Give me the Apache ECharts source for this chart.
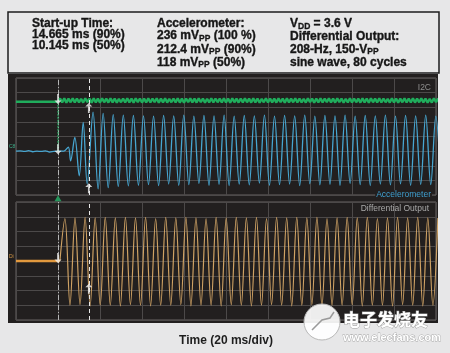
<!DOCTYPE html>
<html><head><meta charset="utf-8">
<script src="https://cdn.jsdelivr.net/npm/echarts@6/dist/echarts.min.js"></script>
<style>html,body{margin:0;padding:0;background:#e7e7e8}#c{width:450px;height:353px}</style>
</head><body><div id="c"></div>
<script>
// ---- time axis (ms), 20 ms/div ----
const timeMin = 0, timeMax = 200, timeDiv = 20;
const cursorTimes = [20, 34.665];          // trigger cursor, 90 % start-up cursor
// ---- I2C (green), arbitrary volts ----
const i2cPre = [[0, 3.58], [20, 3.58]];
const i2cRippleStart = 21, i2cRippleStep = 1.0;
const i2cRipple = [
3.80,3.53,3.82,3.51,3.79,3.54,3.81,3.52,3.80,3.53,
3.78,3.52,3.81,3.54,3.80,3.51,3.82,3.53,3.79,3.52,
3.81,3.54,3.79,3.52,3.82,3.53,3.80,3.51,3.78,3.54,
3.80,3.52,3.82,3.53,3.79,3.51,3.81,3.54,3.80,3.52,
3.79,3.53,3.81,3.52,3.80,3.54,3.82,3.51,3.79,3.53,
3.81,3.52,3.78,3.54,3.80,3.53,3.82,3.52,3.79,3.51,
3.80,3.54,3.81,3.53,3.79,3.52,3.82,3.54,3.80,3.51,
3.78,3.53,3.81,3.52,3.80,3.54,3.79,3.53,3.82,3.52,
3.80,3.51,3.81,3.54,3.79,3.52,3.80,3.53,3.82,3.54,
3.79,3.52,3.81,3.53,3.80,3.51,3.78,3.54,3.82,3.52,
3.80,3.53,3.79,3.52,3.81,3.54,3.80,3.51,3.82,3.53,
3.79,3.54,3.81,3.52,3.80,3.53,3.78,3.52,3.82,3.54,
3.80,3.51,3.79,3.53,3.81,3.52,3.80,3.54,3.82,3.53,
3.79,3.52,3.81,3.54,3.80,3.51,3.78,3.53,3.82,3.52,
3.80,3.54,3.79,3.52,3.81,3.53,3.80,3.51,3.82,3.54,
3.79,3.53,3.81,3.52,3.80,3.54,3.78,3.52,3.82,3.53,
3.80,3.51,3.79,3.54,3.81,3.52,3.80,3.53,3.82,3.52,
3.79,3.54,3.81,3.53,3.80,3.51,3.78,3.52,3.82,3.54,
3.80,3.53];
// ---- Accelerometer (blue), mV ----
const accelStartup = [[0,0],[2,1],[4,-1],[6,1.5],[8,-2],[10,0],[12,-1],[14,1],[16,-3],[18,-1],[20,0],[22.8,0],
  [24.9,13],[26.0,-32],[28.0,45],[30.1,-81],[32.0,94],[33.9,-108],[36.7,128]];
const accelSteadyStart = 39.1, accelSteadyStep = 2.4;
const accelSteady = [
-124,124,-120,120,-116,118,-114,117,-112,116,
-110,115,-113,117,-108,116,-112,118,-110,115,
-106,117,-112,116,-109,118,-113,115,-108,117,
-111,116,-105,118,-112,115,-110,117,-108,116,
-113,118,-107,115,-111,117,-109,116,-112,118,
-106,115,-110,117,-113,116,-108,118,-111,115,
-107,117,-112,116,-109,118,-110,115,-111];
// ---- Differential output (orange) ----
const diffPre = [[0,0],[20.9,0]];
const diffStart = 23.3, diffStep = 2.4;
const diffValues = [
72,-75,73,-74,74,-76,73,-75,74,-75,
73,-76,74,-74,73,-75,74,-76,72,-75,
74,-75,73,-74,74,-76,73,-75,72,-75,
74,-76,73,-74,74,-75,73,-76,74,-75,
72,-74,74,-75,73,-76,74,-75,73,-74,
74,-76,72,-75,73,-75,74,-74,73,-76,
74,-75,72,-75,73,-76,74,-74,73,-75,
74,-76,73,-75,73];
// ---- cursor markers (data space) ----
const i2cMarks = [[20, 3.76, 180], [34.665, 3.15, 0]];
const accelMarks = [[20, 6, 180], [34.665, -122, 0]];
const diffMarks = [[20, 5, 180], [34.665, -47, 0]];
const triggerMark = [[20, -155]];
const triggerLink = [[20, 3.58], [20, 0.1]];

const FONT = '"Liberation Sans", Arial, Helvetica, sans-serif';
const header = [
  {x: 32, y: 24, t: 'Start-up Time:'},
  {x: 32, y: 35, t: '14.665 ms (90%)'},
  {x: 32, y: 46, t: '10.145 ms (50%)'},
  {x: 157, y: 24, t: 'Accelerometer:'},
  {x: 157, y: 36, t: '236 mV{s|PP} (100 %)'},
  {x: 157, y: 49.5, t: '212.4 mV{s|PP} (90%)'},
  {x: 157, y: 62.5, t: '118 mV{s|PP} (50%)'},
  {x: 290, y: 24, t: 'V{s|DD} = 3.6 V'},
  {x: 290, y: 36.5, t: 'Differential Output:'},
  {x: 290, y: 49.5, t: '208-Hz, 150-V{s|PP}'},
  {x: 290, y: 63, t: 'sine wave, 80 cycles'}
];

function seq(start, step, vals) { return vals.map((v, i) => [+(start + i * step).toFixed(3), v]); }
const i2cData = i2cPre.concat(seq(i2cRippleStart, i2cRippleStep, i2cRipple));
const accelData = accelStartup.concat(seq(accelSteadyStart, accelSteadyStep, accelSteady));
const diffWave = [diffPre[diffPre.length - 1]].concat(seq(diffStart, diffStep, diffValues));

const ARROW = 'path://M4,0 L8,4 L5,4 L5,11 L3,11 L3,4 L0,4 Z';
function marks(arr) { return arr.map(m => ({value: [m[0], m[1]], symbolRotate: m[2]})); }

const gridLine = {show: true, lineStyle: {color: '#4c4949', width: 1}};
const hiddenAx = {axisLine: {show: false}, axisTick: {show: false}, axisLabel: {show: false}};

const graphics = [
  {type: 'rect', z: -10, shape: {x: 8, y: 12, width: 431, height: 61}, style: {fill: '#e7e7e8', stroke: '#1c1c1c', lineWidth: 1.5}},
  {type: 'rect', z: -10, shape: {x: 8, y: 74, width: 430, height: 249}, style: {fill: '#221f1f'}},
  {type: 'text', z: 50, x: 431, y: 88, style: {text: 'I2C', fill: '#8e8e8e', font: '8.5px ' + FONT, align: 'right', verticalAlign: 'middle'}},
  {type: 'text', z: 50, x: 432, y: 195, style: {text: 'Accelerometer', fill: '#3f9fd0', font: '8.5px ' + FONT, align: 'right', verticalAlign: 'middle', backgroundColor: '#221f1f', padding: [0, 1, 0, 1]}},
  {type: 'text', z: 50, x: 429, y: 209, style: {text: 'Differential Output', fill: '#a9a9a9', font: '8.5px ' + FONT, align: 'right', verticalAlign: 'middle'}},
  {type: 'text', z: 50, x: 9, y: 147, style: {text: 'C8', fill: '#3fae8a', font: '5px ' + FONT, verticalAlign: 'middle'}},
  {type: 'text', z: 50, x: 9, y: 257, style: {text: 'Di', fill: '#d89a48', font: '5px ' + FONT, verticalAlign: 'middle'}},
  // watermark
  {type: 'circle', z: 60, shape: {cx: 322, cy: 322, r: 18}, style: {fill: 'rgba(255,255,255,0.92)', stroke: '#b8b8b8', lineWidth: 1}},
  {type: 'polyline', z: 61, shape: {points: [[312, 330], [322, 320], [330, 318], [334, 312]]}, style: {stroke: '#9a9a9a', lineWidth: 1.5, fill: null}},
  {type: 'text', z: 61, x: 343, y: 320, style: {text: '电子发烧友', fill: '#ffffff', stroke: '#a0a0a0', lineWidth: 1, font: 'bold 17px "Noto Sans CJK SC", sans-serif', verticalAlign: 'middle'}},
  {type: 'text', z: 61, x: 343, y: 338, style: {text: 'www.elecfans.com', fill: '#ffffff', stroke: '#a8a8a8', lineWidth: 0.8, font: 'bold 11px ' + FONT, verticalAlign: 'middle'}}
];
header.forEach(h => graphics.push({
  type: 'text', z: 20, x: h.x, y: h.y,
  style: {
    text: h.t, fill: '#161616', stroke: '#161616', lineWidth: 0.35,
    fontSize: 12, fontWeight: 'bold', fontFamily: FONT,
    verticalAlign: 'middle', lineHeight: 14,
    rich: {s: {fontSize: 8.5, fontWeight: 'bold', fontFamily: FONT, fill: '#161616', stroke: '#161616', lineWidth: 0.3, verticalAlign: 'bottom', lineHeight: 9}}
  }
}));

const cursorLine = {
  symbol: 'none', silent: true, label: {show: false},
  data: [
    {xAxis: cursorTimes[0], lineStyle: {color: '#b5b5b5', width: 1, type: [5, 2, 1, 2]}},
    {xAxis: cursorTimes[1], lineStyle: {color: '#e8e8e8', width: 1, type: [4, 3]}}
  ]
};

const option = {
  backgroundColor: '#e7e7e8',
  animation: false,
  graphic: graphics,
  grid: [
    {left: 16, right: 14, top: 78, height: 117, show: true, borderColor: '#686565', borderWidth: 1, backgroundColor: 'transparent'},
    {left: 16, right: 14, top: 202, height: 118, show: true, borderColor: '#686565', borderWidth: 1, backgroundColor: 'transparent'}
  ],
  xAxis: [
    Object.assign({gridIndex: 0, type: 'value', min: timeMin, max: timeMax, interval: timeDiv, splitLine: gridLine}, hiddenAx),
    Object.assign({gridIndex: 1, type: 'value', min: timeMin, max: timeMax, interval: timeDiv, splitLine: gridLine,
      name: 'Time (20 ms/div)', nameLocation: 'middle', nameGap: 15,
      nameTextStyle: {color: '#1e1e1e', fontSize: 12, fontWeight: 'bold', fontFamily: FONT}}, hiddenAx)
  ],
  yAxis: [
    Object.assign({gridIndex: 0, type: 'value', min: -4, max: 4, interval: 1, splitLine: gridLine}, hiddenAx),
    {gridIndex: 0, type: 'value', min: -2.8, max: 5.2, show: false},
    {gridIndex: 0, type: 'value', min: -144, max: 240, show: false},
    Object.assign({gridIndex: 1, type: 'value', min: -100, max: 100, interval: 25, splitLine: gridLine}, hiddenAx)
  ],
  series: [
    {name: 'Accelerometer', type: 'line', xAxisIndex: 0, yAxisIndex: 2, data: accelData, showSymbol: false, smooth: 0.35,
      lineStyle: {color: '#47a6d1', width: 1.3}, markLine: cursorLine, z: 3},
    {name: 'I2C', type: 'line', xAxisIndex: 0, yAxisIndex: 1, data: i2cData, showSymbol: false,
      lineStyle: {color: '#20ad5c', width: 2.4}, z: 4},
    {name: 'trigger link', type: 'line', xAxisIndex: 0, yAxisIndex: 1, data: triggerLink, showSymbol: false,
      lineStyle: {color: '#27a862', width: 1.2, type: [2, 1]}, z: 5},
    {name: 'Differential Output base', type: 'line', xAxisIndex: 1, yAxisIndex: 3, data: diffPre, showSymbol: false,
      lineStyle: {color: '#e2993e', width: 2.5}, z: 4},
    {name: 'Differential Output', type: 'line', xAxisIndex: 1, yAxisIndex: 3, data: diffWave, showSymbol: false, smooth: 0.35,
      lineStyle: {color: '#cfa264', width: 1.2}, markLine: cursorLine, z: 3},
    {type: 'scatter', xAxisIndex: 0, yAxisIndex: 1, data: marks(i2cMarks), symbol: ARROW, symbolSize: [7, 10], itemStyle: {color: '#f2f2f2'}, z: 10, silent: true},
    {type: 'scatter', xAxisIndex: 0, yAxisIndex: 2, data: marks(accelMarks), symbol: ARROW, symbolSize: [7, 10], itemStyle: {color: '#f2f2f2'}, z: 10, silent: true},
    {type: 'scatter', xAxisIndex: 1, yAxisIndex: 3, data: marks(diffMarks), symbol: ARROW, symbolSize: [7, 10], itemStyle: {color: '#f2f2f2'}, z: 10, silent: true},
    {type: 'scatter', xAxisIndex: 0, yAxisIndex: 2, data: triggerMark, symbol: 'triangle', symbolSize: [7, 6], itemStyle: {color: '#27b36a'}, z: 10, clip: false, silent: true}
  ]
};
const chart = echarts.init(document.getElementById('c'), null, {renderer: 'canvas'});
chart.setOption(option);
</script></body></html>
